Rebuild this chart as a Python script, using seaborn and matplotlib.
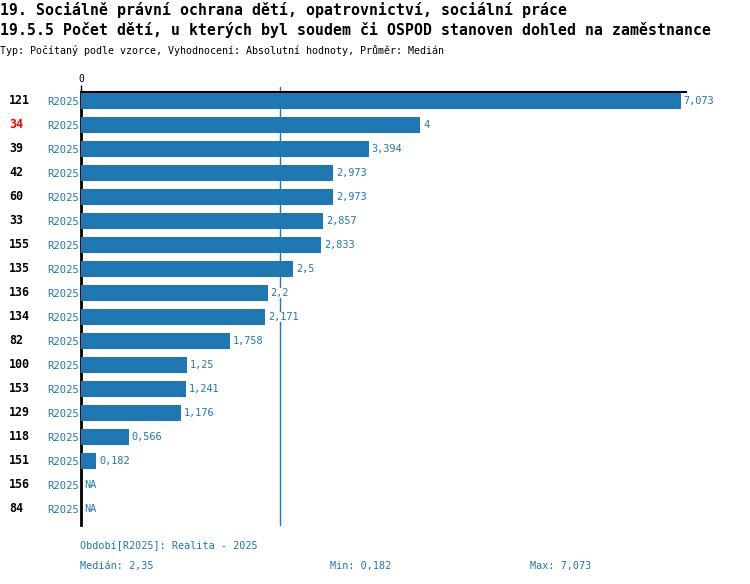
import numpy as np
import pandas as pd
import matplotlib
matplotlib.use("Agg")
import matplotlib.pyplot as plt
import matplotlib.transforms as mtransforms
import seaborn as sns

# data
ids = ["121", "34", "39", "42", "60", "33", "155", "135", "136", "134",
       "82", "100", "153", "129", "118", "151", "156", "84"]
values = [7.073, 4, 3.394, 2.973, 2.973, 2.857, 2.833, 2.5, 2.2, 2.171,
          1.758, 1.25, 1.241, 1.176, 0.566, 0.182, np.nan, np.nan]
value_labels = ["7,073", "4", "3,394", "2,973", "2,973", "2,857", "2,833", "2,5", "2,2", "2,171",
                "1,758", "1,25", "1,241", "1,176", "0,566", "0,182", "NA", "NA"]
period = "R2025"
highlight = "34"
median = 2.35

title1 = "19. Sociálně právní ochrana dětí, opatrovnictví, sociální práce"
title2 = "19.5.5 Počet dětí, u kterých byl soudem či OSPOD stanoven dohled na zaměstnance"
subtitle = "Typ: Počítaný podle vzorce, Vyhodnocení: Absolutní hodnoty, Průměr: Medián"

blue = "#1f77b4"
mono = "DejaVu Sans Mono"

sns.set_style("white")
plt.rcParams["font.family"] = [mono, "DejaVu Sans"]
plt.rcParams["text.color"] = "black"
plt.rcParams["xtick.color"] = "black"

df = pd.DataFrame({"id": ids, "value": values})

W, H = 750, 584
fig = plt.figure(figsize=(W / 100, H / 100), dpi=100)
# axes placed in pixels: x 81..686, y 92..525
ax = fig.add_axes([81 / W, 1 - 525 / H, (686 - 81) / W, (525 - 92) / H])

sns.barplot(data=df, x="value", y="id", order=ids, orient="h", color=blue,
            saturation=1, width=0.66, linewidth=0, ax=ax, zorder=3)

ax.set_xlim(0, 7.073 * (686 - 81) / 600)
ax.set_ylim(len(ids) - 1 + 0.667, -0.375)

# median line
ax.plot([median, median], [len(ids) - 1 + 0.667, -0.58], color=blue, lw=1,
        zorder=1, clip_on=False)

# value labels
for i, (v, lab) in enumerate(zip(values, value_labels)):
    x = 0 if np.isnan(v) else v
    ax.annotate(lab, (x, i), xytext=(2, 0), textcoords="offset points",
                ha="left", va="center", fontsize=7.4, color=blue, family=mono,
                bbox=dict(facecolor="white", edgecolor="none", pad=0), zorder=4)

# y labels: period, and ids at far left
ax.set_yticks(range(len(ids)))
ax.set_yticklabels([period] * len(ids), color=blue, fontsize=7.6, family=mono)
ax.tick_params(axis="y", length=0, pad=1.5)
ax.set_ylabel("")
ax.set_xlabel("")

trans = mtransforms.blended_transform_factory(fig.transFigure, ax.transData)
for i, name in enumerate(ids):
    ax.text(9 / W, i, name, transform=trans, ha="left", va="center",
            fontsize=8.4, fontweight="bold", family=mono,
            color="#ff0000" if name == highlight else "black")

# top axis with single 0 tick
ax.xaxis.tick_top()
ax.set_xticks([0])
ax.set_xticklabels(["0"], fontsize=7, family=mono, color="black")
ax.tick_params(axis="x", length=5, width=1, color="black", pad=1)

for s in ["right", "bottom"]:
    ax.spines[s].set_visible(False)
ax.spines["left"].set_linewidth(2)
ax.spines["left"].set_color("black")
ax.spines["top"].set_linewidth(1.5)
ax.spines["top"].set_color("black")
ax.grid(False)

# titles
fig.text(0, 1 - 10 / H, title1, ha="left", va="center", fontsize=10.7,
         fontweight="bold", family=mono, color="black")
fig.text(0, 1 - 30 / H, title2, ha="left", va="center", fontsize=10.7,
         fontweight="bold", family=mono, color="black")
fig.text(0, 1 - 50 / H, subtitle, ha="left", va="center", fontsize=7.2,
         family=mono, color="black")

# footer
fig.text(80 / W, 1 - 546 / H, "Období[" + period + "]: Realita - 2025", ha="left",
         va="center", fontsize=7.3, color=blue, family=mono)
fig.text(80 / W, 1 - 566 / H, "Medián: 2,35", ha="left", va="center",
         fontsize=7.3, color=blue, family=mono)
fig.text(330 / W, 1 - 566 / H, "Min: 0,182", ha="left", va="center",
         fontsize=7.3, color=blue, family=mono)
fig.text(530 / W, 1 - 566 / H, "Max: 7,073", ha="left", va="center",
         fontsize=7.3, color=blue, family=mono)

fig.savefig("out.png", dpi=100)
